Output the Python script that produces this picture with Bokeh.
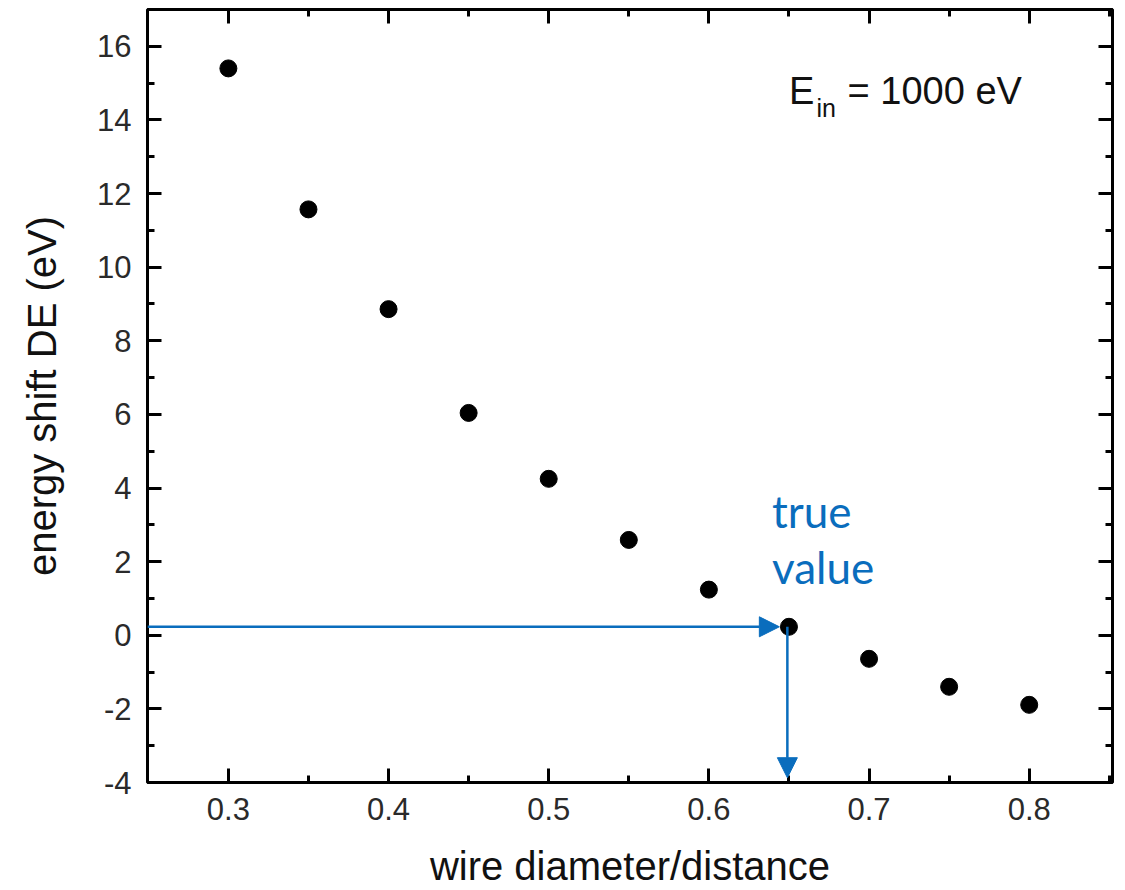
from bokeh.plotting import figure
from bokeh.models import (Range1d, LinearAxis, FixedTicker, CustomJSTickFormatter,
                          Arrow, NormalHead, Label, ColumnDataSource)
from bokeh.embed import file_html
from bokeh.resources import INLINE

# ---- data ----
ratio = [0.30, 0.35, 0.40, 0.45, 0.50, 0.55, 0.60, 0.65, 0.70, 0.75, 0.80]
energy_shift = [15.40, 11.57, 8.86, 6.04, 4.25, 2.59, 1.24, 0.23, -0.64, -1.40, -1.89]
x_major = [0.3, 0.4, 0.5, 0.6, 0.7, 0.8]
x_minor = [0.35, 0.45, 0.55, 0.65, 0.75, 0.85]
y_major = [-4, -2, 0, 2, 4, 6, 8, 10, 12, 14, 16]
y_minor = [-3, -1, 1, 3, 5, 7, 9, 11, 13, 15, 17]
true_x = 0.65
true_y = 0.23

FONT = "Liberation Sans"
BLUE = "#0a6dbd"

p = figure(width=1125, height=890, output_backend="svg", toolbar_location=None,
           x_range=Range1d(0.2495, 0.852), y_range=Range1d(-4, 17),
           x_axis_location=None, y_axis_location=None,
           min_border_left=147, min_border_right=13, min_border_top=9, min_border_bottom=108)
p.grid.visible = False
p.outline_line_color = "black"
p.outline_line_width = 3
p.background_fill_color = "white"
p.border_fill_color = "white"

def style_axis(ax, labels=True):
    ax.major_tick_in = 14
    ax.major_tick_out = 0
    ax.minor_tick_in = 7
    ax.minor_tick_out = 0
    ax.major_tick_line_width = 3
    ax.minor_tick_line_width = 3
    ax.major_tick_line_color = "black"
    ax.minor_tick_line_color = "black"
    ax.axis_line_color = None
    if labels:
        ax.major_label_text_font = FONT
        ax.major_label_text_font_size = "31px"
        ax.major_label_text_color = "#2a2a2a"
        ax.axis_label_text_font = FONT
        ax.axis_label_text_font_size = "40px"
        ax.axis_label_text_font_style = "normal"
        ax.axis_label_text_color = "#111111"
    else:
        ax.formatter = CustomJSTickFormatter(code="return ''")
        ax.major_label_standoff = 0
        ax.major_label_text_font_size = "1px"

xb = LinearAxis(ticker=FixedTicker(ticks=x_major, minor_ticks=x_minor),
                axis_label="wire diameter/distance",
                formatter=CustomJSTickFormatter(code="return tick.toFixed(1)"))
style_axis(xb)
xb.major_label_standoff = 15
xb.axis_label_standoff = 21
p.add_layout(xb, "below")

yl = LinearAxis(ticker=FixedTicker(ticks=y_major, minor_ticks=y_minor),
                axis_label="energy shift DE (eV)",
                formatter=CustomJSTickFormatter(code="return tick.toFixed(0)"))
style_axis(yl)
yl.major_label_standoff = 16
yl.axis_label_standoff = 30
p.add_layout(yl, "left")

xt = LinearAxis(ticker=FixedTicker(ticks=x_major, minor_ticks=x_minor))
style_axis(xt, labels=False)
p.add_layout(xt, "above")

yr = LinearAxis(ticker=FixedTicker(ticks=y_major, minor_ticks=y_minor))
style_axis(yr, labels=False)
p.add_layout(yr, "right")

src = ColumnDataSource(dict(x=ratio, y=energy_shift))
p.scatter("x", "y", source=src, size=17, color="black")

# arrows
p.add_layout(Arrow(end=NormalHead(size=20, fill_color=BLUE, line_color=BLUE),
                   x_start=0.2495, y_start=true_y, x_end=true_x - 0.006, y_end=true_y,
                   line_color=BLUE, line_width=2.5))
p.add_layout(Arrow(end=NormalHead(size=20, fill_color=BLUE, line_color=BLUE),
                   x_start=true_x - 0.001, y_start=true_y, x_end=true_x - 0.001, y_end=-3.87,
                   line_color=BLUE, line_width=2.5))

# annotations
p.add_layout(Label(x=0.6394, y=2.68, text="true", text_font="Lato",
                   text_font_size="44px", text_color=BLUE))
p.add_layout(Label(x=0.6394, y=1.16, text="value", text_font="Lato",
                   text_font_size="44px", text_color=BLUE))
p.add_layout(Label(x=0.6500, y=14.21, text="E", text_font=FONT,
                   text_font_size="38px", text_color="#111111"))
p.add_layout(Label(x=0.6672, y=13.94, text="in", text_font=FONT,
                   text_font_size="25px", text_color="#111111"))
p.add_layout(Label(x=0.6866, y=14.21, text="= 1000 eV", text_font=FONT,
                   text_font_size="38px", text_color="#111111"))

open("out.html", "w").write(file_html(p, INLINE))
